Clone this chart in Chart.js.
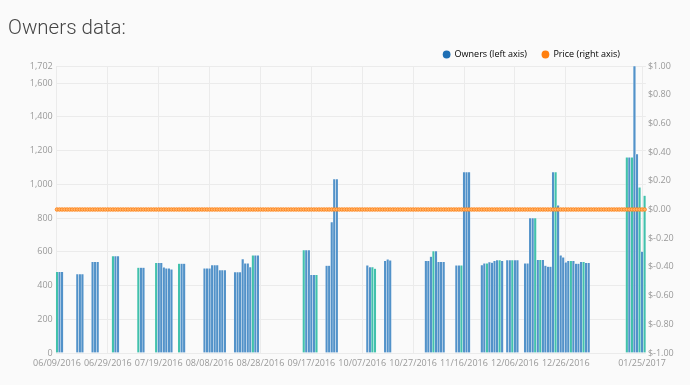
<!DOCTYPE html>
<html><head><meta charset="utf-8">
<script src="https://cdn.jsdelivr.net/npm/chart.js@4"></script>
<style>
html,body{margin:0;padding:0;background:#fafafa;width:690px;height:385px;overflow:hidden;}
#wrap{position:absolute;left:0;top:0;width:690px;height:385px;}
#title{position:absolute;left:8px;top:15px;font-family:Roboto,"Open Sans",sans-serif;font-weight:300;font-size:20.5px;color:#444;white-space:nowrap;}
</style></head><body>
<div id="wrap"><canvas id="c" width="690" height="385"></canvas></div>
<div id="title">Owners data:</div>
<script>
// ---- data ----
const startDay = [2016, 6, 9]; // first category: 06/09/2016, one category per day
const ownerValues = [
  482,482,482,null,null,null,null,null,468,468,
  468,null,null,null,540,540,540,null,null,null,
  null,null,575,575,575,null,null,null,null,null,
  null,null,506,506,506,null,null,null,null,535,
  535,535,508,502,502,496,null,null,530,530,
  530,null,null,null,null,null,null,null,502,502,
  502,522,522,522,492,492,492,null,null,null,
  480,480,480,557,532,532,510,579,579,579,
  null,null,null,null,null,null,null,null,null,null,
  null,null,null,null,null,null,null,610,610,610,
  464,464,464,null,null,null,518,518,777,1032,
  1032,null,null,null,null,null,null,null,null,null,
  null,null,520,510,510,500,null,null,null,546,
  556,550,null,null,null,null,null,null,null,null,
  null,null,null,null,null,547,547,572,604,604,
  541,541,541,null,null,null,null,520,520,520,
  1073,1073,1073,null,null,null,null,522,532,532,
  539,536,546,551,551,547,null,551,551,551,
  551,551,null,null,532,532,800,800,800,553,
  553,553,518,512,512,1073,1073,876,579,567,
  538,546,546,546,530,530,540,540,535,535,
  null,null,null,null,null,null,null,null,null,null,
  null,null,null,null,1160,1160,1160,1702,1180,982,
  601,933
];
const priceValues = [
  0,0,0,0,0,0,0,0,0,0,0,0,0,0,0,0,0,0,0,0,
  0,0,0,0,0,0,0,0,0,0,0,0,0,0,0,0,0,0,0,0,
  0,0,0,0,0,0,0,0,0,0,0,0,0,0,0,0,0,0,0,0,
  0,0,0,0,0,0,0,0,0,0,0,0,0,0,0,0,0,0,0,0,
  0,0,0,0,0,0,0,0,0,0,0,0,0,0,0,0,0,0,0,0,
  0,0,0,0,0,0,0,0,0,0,0,0,0,0,0,0,0,0,0,0,
  0,0,0,0,0,0,0,0,0,0,0,0,0,0,0,0,0,0,0,0,
  0,0,0,0,0,0,0,0,0,0,0,0,0,0,0,0,0,0,0,0,
  0,0,0,0,0,0,0,0,0,0,0,0,0,0,0,0,0,0,0,0,
  0,0,0,0,0,0,0,0,0,0,0,0,0,0,0,0,0,0,0,0,
  0,0,0,0,0,0,0,0,0,0,0,0,0,0,0,0,0,0,0,0,
  0,0,0,0,0,0,0,0,0,0,0,0
];
// bars drawn in the second (teal) shade
const tealBarIndex = [0,22,32,39,48,77,97,102,124,125,148,159,169,174,179,188,190,196,202,207,224,226,229,231];
const xTickLabels = ['06/09/2016','06/29/2016','07/19/2016','08/08/2016','08/28/2016','09/17/2016','10/07/2016','10/27/2016','11/16/2016','12/06/2016','12/26/2016','01/25/2017'];
const seriesNames = ['Owners (left axis)', 'Price (right axis)'];
const leftMax = 1702;

// ---- categories (one per day) ----
const dates = [];
const d0 = Date.UTC(startDay[0], startDay[1]-1, startDay[2]);
for (let i = 0; i < ownerValues.length; i++) {
  const d = new Date(d0 + i*86400000);
  dates.push(String(d.getUTCMonth()+1).padStart(2,'0') + '/' + String(d.getUTCDate()).padStart(2,'0') + '/' + d.getUTCFullYear());
}

const BLUE = '#5292c9', TEAL = '#42c1ac', ORANGE = '#ff7f0e', LEGBLUE = '#1f6fb4';
const tickFont = {family:'"Open Sans", sans-serif', size:9};
const LEG_PAD = 15;

const legendShift = {
  id: 'legendShift',
  afterLayout(chart) {
    const lg = chart.legend; if (!lg) return;
    const dx = (620 + LEG_PAD) - lg.right;
    lg.left += dx; lg.right += dx;
    lg.top += 3; lg.bottom += 3;
  }
};

new Chart(document.getElementById('c'), {
  data: {
    labels: dates,
    datasets: [
      {
        type: 'bar', label: seriesNames[0], data: ownerValues, yAxisID: 'y',
        backgroundColor: c => tealBarIndex.includes(c.dataIndex) ? TEAL : BLUE,
        borderColor: 'rgba(255,255,255,0.55)', borderWidth: 0.5,
        barPercentage: 1, categoryPercentage: 1, order: 2
      },
      {
        type: 'line', label: seriesNames[1], data: priceValues, yAxisID: 'y1',
        borderColor: ORANGE, borderWidth: 1.5, pointRadius: 1.8,
        pointBackgroundColor: '#ffb26b', pointBorderColor: ORANGE, pointBorderWidth: 0.8,
        order: 1
      }
    ]
  },
  options: {
    responsive: false, animation: false,
    layout: {padding: {top: 32, left: 0, right: 0, bottom: 0}},
    plugins: {
      tooltip: {enabled: false},
      legend: {
        position: 'top', align: 'end', fullSize: false,
        labels: {
          usePointStyle: true, boxWidth: 7, boxHeight: 5.5, padding: LEG_PAD,
          color: '#333', font: {family:'"Open Sans", sans-serif', size: 9},
          generateLabels: chart => chart.data.datasets.map((ds, i) => ({
            text: ds.label, fillStyle: i === 0 ? LEGBLUE : ORANGE, strokeStyle: i === 0 ? LEGBLUE : ORANGE,
            lineWidth: 0, pointStyle: 'circle', hidden: false, datasetIndex: i
          }))
        }
      }
    },
    scales: {
      x: {
        offset: true,
        grid: {offset: false, color: '#ebebeb', drawTicks: false},
        border: {display: false},
        ticks: {autoSkip: false, maxRotation: 0, minRotation: 0, font: tickFont, color: '#999', padding: 5},
        afterBuildTicks: ax => { ax.ticks = ax.ticks.filter(t => xTickLabels.includes(dates[t.value])); },
        afterFit: ax => { ax.height = 32; }
      },
      y: {
        position: 'left', min: 0, max: leftMax,
        grid: {color: '#ebebeb', drawTicks: false},
        border: {display: false},
        ticks: {stepSize: 200, font: tickFont, color: '#999', padding: 3},
        afterFit: ax => { ax.width = 55.7; }
      },
      y1: {
        position: 'right', min: -1, max: 1,
        grid: {drawOnChartArea: false, drawTicks: false},
        border: {display: false},
        ticks: {stepSize: 0.2, font: tickFont, color: '#999', padding: 2,
          callback: v => '$' + (Math.abs(v) < 1e-9 ? 0 : v).toFixed(2)},
        afterFit: ax => { ax.width = 44.1; }
      }
    }
  },
  plugins: [legendShift]
});
</script>
</body></html>
